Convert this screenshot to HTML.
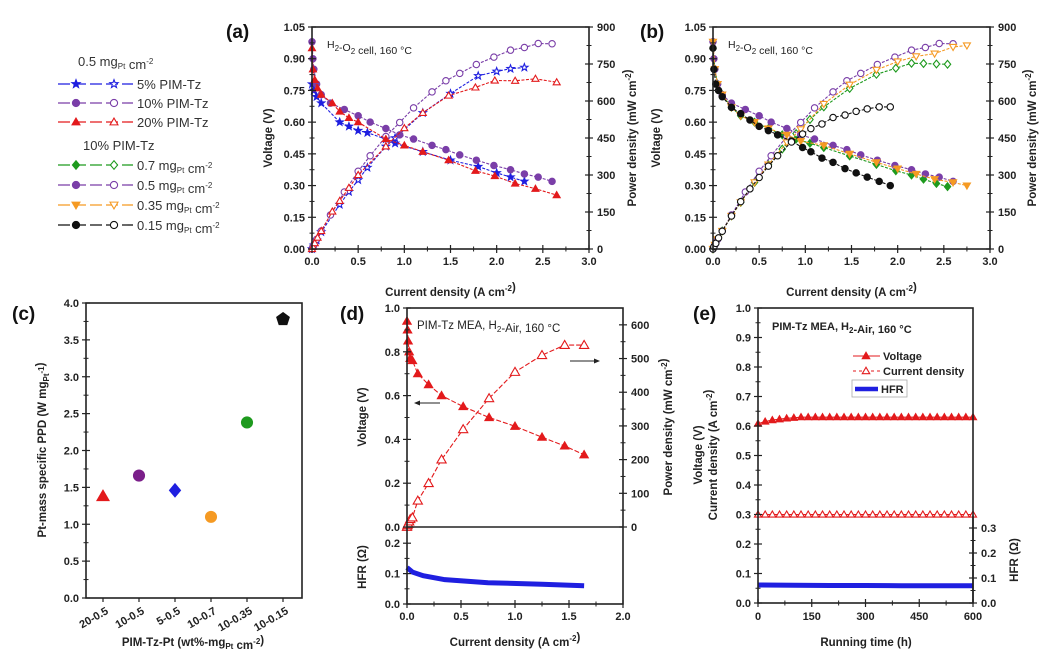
<!DOCTYPE html>
<html><head><meta charset="utf-8"><style>
html,body{margin:0;padding:0;background:#fff}
svg{display:block;font-family:"Liberation Sans",Arial,sans-serif}
.t{font-size:11px;font-weight:bold;fill:#222}
.ti{font-size:11.5px;font-weight:bold;fill:#222}
.pl{font-size:19px;font-weight:bold;fill:#111}
.lg{font-size:13px;fill:#333}
</style></head><body>
<svg id="s" width="1052" height="666" viewBox="0 0 1052 666"></svg>
<script>
// ---------- data ----------
// panel a
const aI5=[0,0.02,0.05,0.1,0.3,0.4,0.5,0.6,0.8,0.9,1.2,1.5,1.8,2.0,2.15,2.3];
const aV5=[0.78,0.75,0.72,0.69,0.6,0.58,0.56,0.55,0.52,0.5,0.46,0.42,0.39,0.36,0.34,0.32];
const aP5=[0,15,36,69,180,232,280,330,416,450,552,630,702,720,731,736];
const aI10=[0,0.01,0.02,0.05,0.1,0.2,0.35,0.5,0.63,0.8,0.95,1.1,1.3,1.45,1.6,1.78,1.97,2.15,2.3,2.45,2.6];
const aV10=[0.98,0.9,0.85,0.78,0.73,0.69,0.66,0.63,0.6,0.57,0.54,0.52,0.49,0.47,0.445,0.42,0.395,0.375,0.355,0.34,0.32];
const aP10=[0,9,17,39,73,138,231,315,378,456,513,572,637,682,712,748,778,806,817,833,832];
const aI20=[0,0.01,0.03,0.06,0.1,0.22,0.3,0.4,0.5,0.8,1.0,1.2,1.48,1.77,1.98,2.2,2.42,2.65];
const aV20=[0.95,0.85,0.8,0.76,0.73,0.69,0.65,0.62,0.6,0.52,0.49,0.46,0.42,0.37,0.345,0.31,0.285,0.255];
const aP20=[0,9,24,46,73,152,195,248,300,416,490,552,622,655,683,682,690,676];
// panel b
const bI07=[0,0.02,0.05,0.1,0.2,0.3,0.45,0.6,0.75,0.9,1.05,1.2,1.48,1.77,1.98,2.15,2.28,2.42,2.54];
const bV07=[0.95,0.85,0.78,0.73,0.67,0.63,0.6,0.57,0.54,0.52,0.5,0.48,0.44,0.4,0.37,0.35,0.33,0.31,0.295];
const bP07=[0,17,39,73,134,189,270,342,405,468,525,576,651,708,733,753,752,750,749];
const bI05=[0,0.01,0.02,0.05,0.1,0.2,0.35,0.5,0.63,0.8,0.95,1.1,1.3,1.45,1.6,1.78,1.97,2.15,2.3,2.45,2.6];
const bV05=[0.98,0.9,0.85,0.78,0.73,0.69,0.66,0.63,0.6,0.57,0.54,0.52,0.49,0.47,0.445,0.42,0.395,0.375,0.355,0.34,0.32];
const bP05=[0,9,17,39,73,138,231,315,378,456,513,572,637,682,712,748,778,806,817,833,832];
const bI035=[0,0.02,0.05,0.1,0.2,0.3,0.45,0.6,0.8,0.95,1.2,1.48,1.77,2.0,2.2,2.4,2.6,2.75];
const bV035=[0.98,0.85,0.78,0.73,0.67,0.63,0.6,0.57,0.54,0.51,0.49,0.45,0.41,0.38,0.355,0.33,0.315,0.3];
const bP035=[0,17,39,73,134,189,270,342,432,485,588,666,726,760,781,792,819,825];
const bI015=[0,0.01,0.03,0.06,0.1,0.2,0.3,0.4,0.5,0.6,0.7,0.85,0.97,1.06,1.18,1.3,1.43,1.55,1.67,1.8,1.92];
const bV015=[0.95,0.85,0.78,0.75,0.72,0.67,0.64,0.61,0.58,0.56,0.54,0.51,0.48,0.46,0.43,0.41,0.38,0.36,0.34,0.32,0.3];
const bP015=[0,9,23,45,72,134,192,244,290,336,378,434,466,488,507,533,543,558,568,576,576];
// panel c
const cCats=["20-0.5","10-0.5","5-0.5","10-0.7","10-0.35","10-0.15"];
const cVals=[1.38,1.66,1.46,1.1,2.38,3.78];
// panel d
const dI=[0,0.005,0.01,0.02,0.03,0.05,0.1,0.2,0.32,0.52,0.76,1.0,1.25,1.46,1.64];
const dV=[0.94,0.9,0.85,0.8,0.77,0.76,0.7,0.65,0.6,0.55,0.5,0.46,0.41,0.37,0.33];
const dP=[0,5,9,16,23,28,78,130,200,290,382,460,510,540,540];
const dHI=[0,0.05,0.15,0.35,0.75,1.25,1.64];
const dHFR=[0.12,0.105,0.093,0.08,0.07,0.065,0.06];
// panel e
const eT=[0,20,40,60,80,100,120,140,160,180,200,220,240,260,280,300,320,340,360,380,400,420,440,460,480,500,520,540,560,580,600];
const eV=[0.608,0.615,0.62,0.623,0.626,0.628,0.63,0.63,0.63,0.63,0.63,0.63,0.63,0.63,0.63,0.63,0.63,0.63,0.63,0.63,0.63,0.63,0.63,0.63,0.63,0.63,0.63,0.63,0.63,0.63,0.63];
const eJ=[0.3,0.3,0.3,0.3,0.3,0.3,0.3,0.3,0.3,0.3,0.3,0.3,0.3,0.3,0.3,0.3,0.3,0.3,0.3,0.3,0.3,0.3,0.3,0.3,0.3,0.3,0.3,0.3,0.3,0.3,0.3];
const eHT=[0,100,200,300,400,500,600];
const eHFR=[0.072,0.071,0.07,0.07,0.069,0.069,0.069];
const ticksA=["0.00","0.15","0.30","0.45","0.60","0.75","0.90","1.05"];
const ticksP=["0","150","300","450","600","750","900"];
const ticksX3=["0.0","0.5","1.0","1.5","2.0","2.5","3.0"];

// ---------- helpers ----------
const S=document.getElementById('s');
const NS='http://www.w3.org/2000/svg';
function E(tag,at,parent){const e=document.createElementNS(NS,tag);for(const k in at)e.setAttribute(k,at[k]);(parent||S).appendChild(e);return e;}
function T(x,y,str,cls,anchor,rot){const e=E('text',{x:x,y:y,class:cls,'text-anchor':anchor||'start'});if(rot)e.setAttribute('transform','rotate('+rot+' '+x+' '+y+')');e.innerHTML=str;return e;}
function lin(d0,d1,r0,r1){return v=>r0+(v-d0)/(d1-d0)*(r1-r0);}
function line(x1,y1,x2,y2,st,w){return E('line',{x1,y1,x2,y2,stroke:st||'#222','stroke-width':w||1.5});}
function yAxis(x,sy,vals,labels,side,lx,minorN){vals.forEach((v,i)=>{const y=sy(v);line(x-4,y,x+4,y,'#222',1.2);const t=T(lx,y+4,labels[i],'t',side<0?'end':'start');
 if(minorN&&i<vals.length-1){const y2=sy(vals[i+1]);line(x-2.5,(y+y2)/2,x+2.5,(y+y2)/2,'#222',1);}});}
function xAxis(y,sx,vals,labels,ly){vals.forEach((v,i)=>{const x=sx(v);line(x,y-4,x,y+4,'#222',1.2);const t=T(x,ly,labels[i],'t','middle');
 if(i<vals.length-1){const x2=sx(vals[i+1]);line((x+x2)/2,y-2.5,(x+x2)/2,y+2.5,'#222',1);}});}
function box(x0,y0,x1,y1,name){const r=E('rect',{x:x0,y:y0,width:x1-x0,height:y1-y0,fill:'none',stroke:'#222','stroke-width':1.6});}
function marker(g,shape,x,y,col,filled,sz){sz=sz||3.6;const f=filled?col:'#fff';const a={fill:f,stroke:col,'stroke-width':1.1};let e;
 if(shape==='circle')e=E('circle',Object.assign({cx:x,cy:y,r:sz},a),g);
 else if(shape==='tri')e=E('polygon',Object.assign({points:`${x},${y-sz*1.1} ${x-sz*1.1},${y+sz*0.8} ${x+sz*1.1},${y+sz*0.8}`},a),g);
 else if(shape==='dtri')e=E('polygon',Object.assign({points:`${x},${y+sz*1.1} ${x-sz*1.1},${y-sz*0.8} ${x+sz*1.1},${y-sz*0.8}`},a),g);
 else if(shape==='dia')e=E('polygon',Object.assign({points:`${x},${y-sz*1.2} ${x-sz},${y} ${x},${y+sz*1.2} ${x+sz},${y}`},a),g);
 else if(shape==='pent'){let p=[];for(let k=0;k<5;k++){const an=-Math.PI/2+k*2*Math.PI/5;p.push((x+sz*1.2*Math.cos(an))+','+(y+sz*1.2*Math.sin(an)));}e=E('polygon',Object.assign({points:p.join(' ')},a),g);}
 else if(shape==='star'){let p=[];for(let k=0;k<10;k++){const an=-Math.PI/2+k*Math.PI/5,r=k%2?sz*0.5:sz*1.2;p.push((x+r*Math.cos(an))+','+(y+r*Math.sin(an)));}e=E('polygon',Object.assign({points:p.join(' ')},a),g);}
 return e;}
function series(name,xs,ys,sx,sy,col,shape,filled,dash,sz){const g=E('g',{});
 E('polyline',{points:xs.map((v,i)=>sx(v)+','+sy(ys[i])).join(' '),fill:'none',stroke:col,'stroke-width':1.1,'stroke-dasharray':dash||'none'},g);
 xs.forEach((v,i)=>marker(g,shape,sx(v),sy(ys[i]),col,filled,sz));}
function label(x,y,str,cls,name,anchor,rot){const t=T(x,y,str,cls,anchor,rot);return t;}

const BL='#1f1fe0',PU='#7a3ea8',RD='#e31a1c',GR='#1e9a1e',OR='#f59a23',BK='#111';
const sub=s=>'<tspan font-size="8" dy="3">'+s+'</tspan><tspan dy="-3"></tspan>';
const sup=s=>'<tspan font-size="8" dy="-5">'+s+'</tspan><tspan dy="5"></tspan>';
const v3=[0,0.5,1,1.5,2,2.5,3];

// ---------- panel a & b ----------
function ivPanel(x0,x1,tag,lxTitle,rxTitle,list){
 const y0=27,y1=249;const sx=lin(0,3,x0,x1),sy=lin(0,1.05,y1,y0),sp=lin(0,900,y1,y0);
 list.forEach(s=>{series(s[0]+'-voltage',s[1],s[2],sx,sy,s[4],s[5],true,'3,1.5',3.2);series(s[0]+'-power',s[1],s[3],sx,sp,s[4],s[6]||s[5],false,'3,1.5',3.2);});
 box(x0,y0,x1,y1,'plot-frame-'+tag);
 yAxis(x0,sy,[0,0.15,0.3,0.45,0.6,0.75,0.9,1.05],ticksA,-1,x0-7,true);
 yAxis(x1,sp,[0,150,300,450,600,750,900],ticksP,1,x1+8,true);
 xAxis(y1,sx,v3,ticksX3,265);
 label((x0+x1)/2,296,'Current density (A cm'+sup('-2')+')','ti','x-axis-title','middle');
 label(lxTitle,138,'Voltage (V)','ti','y-axis-title','middle',-90);
 label(rxTitle,138,'Power density (mW cm'+sup('-2')+')','ti','y2-axis-title','middle',-90);
 label(x0+15,48,'H'+sub('2')+'-O'+sub('2')+' cell, 160 °C','t','annotation','start').setAttribute('style','font-weight:normal;font-size:10.5px');
}
ivPanel(312,589,'a',272,636,[
 ['5pct',aI5,aV5,aP5,BL,'star'],['10pct',aI10,aV10,aP10,PU,'circle'],['20pct',aI20,aV20,aP20,RD,'tri']]);
ivPanel(713,990,'b',660,1036,[
 ['0.7mg',bI07,bV07,bP07,GR,'dia'],['0.5mg',bI05,bV05,bP05,PU,'circle'],['0.35mg',bI035,bV035,bP035,OR,'dtri'],['0.15mg',bI015,bV015,bP015,BK,'circle']]);
label(226,38,'(a)','pl','panel-label-a');
label(640,38,'(b)','pl','panel-label-b');

// legend
const lgRows=[[84,BL,'star','5% PIM-Tz'],[103,PU,'circle','10% PIM-Tz'],[122,RD,'tri','20% PIM-Tz'],
 [165,GR,'dia','0.7 mg'+sub('Pt')+' cm'+sup('-2')],[185,PU,'circle','0.5 mg'+sub('Pt')+' cm'+sup('-2')],[205,OR,'dtri','0.35 mg'+sub('Pt')+' cm'+sup('-2')],[225,BK,'circle','0.15 mg'+sub('Pt')+' cm'+sup('-2')]];
label(78,66,'0.5 mg'+sub('Pt')+' cm'+sup('-2'),'lg','legend-heading-1');
label(83,150,'10% PIM-Tz','lg','legend-heading-2');
lgRows.forEach(r=>{const g=E('g',{});
 E('line',{x1:58,y1:r[0],x2:133,y2:r[0],stroke:r[1],'stroke-width':1.3,'stroke-dasharray':'12,4'},g);
 marker(g,r[2],76,r[0],r[1],true,3.6);marker(g,r[2],114,r[0],r[1],false,3.6);
 const t=T(137,r[0]+5,r[3],'lg','start');g.appendChild(t);});

// ---------- panel c ----------
(function(){const x0=86,x1=302,y0=303,y1=598;const sy=lin(0,4,y1,y0);const xs=i=>103+i*36;
 const shapes=[['tri',RD],['circle','#7b1f8a'],['dia',BL],['circle',OR],['circle',GR],['pent',BK]];
 const g=E('g',{});
 cVals.forEach((v,i)=>marker(g,shapes[i][0],xs(i),sy(v),shapes[i][1],true,5.5));
 box(x0,y0,x1,y1,'plot-frame-c');
 yAxis(x0,sy,[0,0.5,1,1.5,2,2.5,3,3.5,4],["0.0","0.5","1.0","1.5","2.0","2.5","3.0","3.5","4.0"],-1,x0-7,true);
 cCats.forEach((c,i)=>{line(xs(i),y1,xs(i),y1+4,'#222',1.2);label(xs(i)+6,y1+15,c,'t','x-category-label','end',-30);});
 label(193,646,'PIM-Tz-Pt (wt%-mg'+sub('Pt')+' cm'+sup('-2')+')','ti','x-axis-title','middle');
 label(46,450,'Pt-mass specific PPD (W mg'+sub('Pt')+sup('-1')+')','ti','y-axis-title','middle',-90);
 label(12,320,'(c)','pl','panel-label-c');})();

// ---------- panel d ----------
(function(){const x0=407,x1=623,y0=308,ym=527,y1=604;const sx=lin(0,2,x0,x1),sy=lin(0,1,ym,y0),sp=lin(0,650,ym,y0),sh=lin(0,0.25,y1,ym+1);
 series('voltage',dI,dV,sx,sy,RD,'tri',true,'5,2',3.8);series('power',dI,dP,sx,sp,RD,'tri',false,'5,2',4.2);
 const h=E('polyline',{points:dHI.map((v,i)=>sx(v)+','+sh(dHFR[i])).join(' '),fill:'none',stroke:BL,'stroke-width':5});
 box(x0,y0,x1,y1,'plot-frame-d');line(x0,ym,x1,ym,'#222',1.6);
 yAxis(x0,sy,[0,0.2,0.4,0.6,0.8,1.0],["0.0","0.2","0.4","0.6","0.8","1.0"],-1,x0-7,true);
 yAxis(x1,sp,[0,100,200,300,400,500,600],["0","100","200","300","400","500","600"],1,x1+8,true);
 yAxis(x0,sh,[0,0.1,0.2],["0.0","0.1","0.2"],-1,x0-7,true);
 xAxis(y1,sx,[0,0.5,1,1.5,2],["0.0","0.5","1.0","1.5","2.0"],620);
 label(515,646,'Current density (A cm'+sup('-2')+')','ti','x-axis-title','middle');
 label(366,417,'Voltage (V)','ti','y-axis-title','middle',-90);
 label(366,567,'HFR (Ω)','ti','hfr-axis-title','middle',-90);
 label(672,427,'Power density (mW cm'+sup('-2')+')','ti','y2-axis-title','middle',-90);
 label(417,329,'PIM-Tz MEA,  H'+sub('2')+'-Air, 160 °C','t').setAttribute('style','font-weight:normal;font-size:11.5px');
 line(418,403,440,403,'#222',1);E('polygon',{points:'414,403 420,400.5 420,405.5',fill:'#222'});
 line(570,361,596,361,'#222',1);E('polygon',{points:'600,361 594,358.5 594,363.5',fill:'#222'});
 label(340,320,'(d)','pl','panel-label-d');})();

// ---------- panel e ----------
(function(){const x0=758,x1=973,y0=308,y1=603;const sx=lin(0,600,x0,x1),sy=lin(0,1,y1,y0),sh=lin(0,0.3,y1,528);
 const h=E('polyline',{points:eHT.map((v,i)=>sx(v)+','+sh(eHFR[i])).join(' '),fill:'none',stroke:BL,'stroke-width':5});
 series('voltage',eT,eV,sx,sy,RD,'tri',true,'none',3.2);series('current-density',eT,eJ,sx,sy,RD,'tri',false,'none',3.2);
 E('rect',{x:x0,y:y0,width:x1-x0,height:y1-y0,fill:'none',stroke:'#222','stroke-width':1.6});
 yAxis(x0,sy,[0,0.1,0.2,0.3,0.4,0.5,0.6,0.7,0.8,0.9,1.0],["0.0","0.1","0.2","0.3","0.4","0.5","0.6","0.7","0.8","0.9","1.0"],-1,x0-7,true);
 line(x1,sh(0.35),x1,y1,'#222',1.6);
 yAxis(x1,sh,[0,0.1,0.2,0.3],["0.0","0.1","0.2","0.3"],1,x1+8,true);
 xAxis(y1,sx,[0,150,300,450,600],["0","150","300","450","600"],620);
 label(866,646,'Running time (h)','ti','x-axis-title','middle');
 label(702,455,'Voltage (V)','ti','y-axis-title','middle',-90);
 label(717,455,'Current density (A cm'+sup('-2')+')','ti','y-axis-title-2','middle',-90);
 label(1018,560,'HFR (Ω)','ti','hfr-axis-title','middle',-90);
 label(772,330,'PIM-Tz MEA, H'+sub('2')+'-Air, 160 °C','t');
 const lg=E('g',{});
 E('line',{x1:853,y1:356,x2:880,y2:356,stroke:RD,'stroke-width':1},lg);marker(lg,'tri',866,356,RD,true,3.4);
 E('line',{x1:853,y1:371,x2:880,y2:371,stroke:RD,'stroke-width':1,'stroke-dasharray':'3,3'},lg);marker(lg,'tri',866,371,RD,false,3.4);
 E('rect',{x:852,y:380,width:55,height:17,fill:'#fff',stroke:'#aaa','stroke-width':0.8},lg);
 E('line',{x1:855,y1:389,x2:878,y2:389,stroke:BL,'stroke-width':4.5},lg);
 lg.appendChild(T(883,360,'Voltage','t'));lg.appendChild(T(883,375,'Current density','t'));lg.appendChild(T(881,393,'HFR','t'));
 label(693,320,'(e)','pl','panel-label-e');})();
</script>
</body></html>
